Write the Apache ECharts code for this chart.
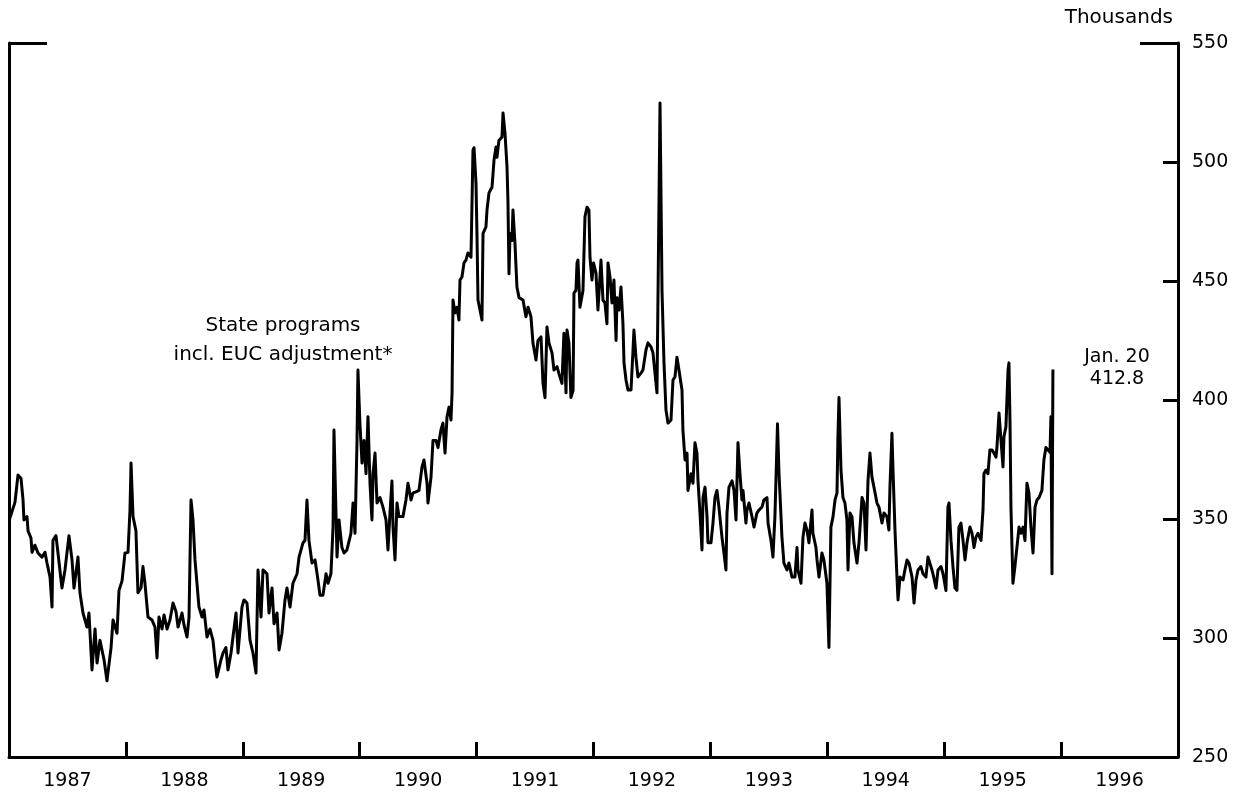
<!DOCTYPE html>
<html>
<head>
<meta charset="utf-8">
<title>Initial claims</title>
<script src="https://cdn.jsdelivr.net/npm/echarts@6/dist/echarts.min.js"></script>
<style>
  html, body { margin: 0; padding: 0; background: #fff; }
  #chart { width: 1243px; height: 796px; }
</style>
</head>
<body>
<div id="chart"></div>
<script>
// weekly claims, thousands: [decimal year, value]
const claims1987 = [
  [1987.005, 350], [1987.051, 357], [1987.077, 368.5], [1987.103, 367], [1987.120, 358], [1987.128, 349.6],
  [1987.154, 351], [1987.163, 345], [1987.188, 342], [1987.197, 336], [1987.222, 339], [1987.248, 335.7],
  [1987.282, 334], [1987.308, 336], [1987.325, 331.5], [1987.351, 325.6], [1987.368, 313], [1987.376, 341],
  [1987.402, 343], [1987.419, 335.7], [1987.453, 321], [1987.479, 328.6], [1987.513, 343], [1987.539, 332.8],
  [1987.556, 321], [1987.590, 334], [1987.607, 319], [1987.633, 310.5], [1987.667, 304.6], [1987.684, 310.5],
  [1987.710, 286.6], [1987.736, 303.8], [1987.753, 289.5], [1987.778, 299], [1987.813, 290.8], [1987.838, 282],
  [1987.873, 296], [1987.890, 307.6], [1987.924, 302], [1987.941, 320], [1987.967, 324], [1987.992, 335.7]
]
const claims1988 = [
  [1988.018, 336], [1988.035, 353.8], [1988.044, 373.5], [1988.061, 351], [1988.086, 345], [1988.103, 319],
  [1988.129, 321], [1988.146, 330], [1988.163, 323], [1988.189, 308.8], [1988.223, 307.6], [1988.249, 304.6],
  [1988.266, 291.6], [1988.283, 308.8], [1988.309, 303.8], [1988.326, 309.7], [1988.352, 303.8], [1988.377, 307.6],
  [1988.403, 314.7], [1988.429, 311], [1988.446, 304.6], [1988.480, 310.5], [1988.497, 305.5], [1988.523, 300.4],
  [1988.540, 308.8], [1988.557, 358], [1988.574, 349.6], [1988.591, 332.8], [1988.608, 323], [1988.625, 313],
  [1988.651, 308.8], [1988.668, 311.8], [1988.694, 300.4], [1988.719, 303.8], [1988.745, 299], [1988.762, 290.8],
  [1988.779, 283.6], [1988.813, 290.8], [1988.831, 293.7], [1988.856, 296], [1988.873, 286.6], [1988.899, 293.7],
  [1988.916, 300.4], [1988.942, 310.5], [1988.959, 293.7], [1988.993, 313]
]
const claims1989 = [
  [1989.010, 316], [1989.036, 314.7], [1989.062, 299], [1989.087, 293.7], [1989.113, 285.3], [1989.130, 328.6],
  [1989.156, 308.8], [1989.173, 328.6], [1989.190, 328.6], [1989.207, 327], [1989.224, 310.5], [1989.250, 321],
  [1989.267, 306], [1989.293, 310.5], [1989.310, 295], [1989.335, 302], [1989.361, 316], [1989.378, 321],
  [1989.404, 313], [1989.429, 323], [1989.464, 327], [1989.481, 334], [1989.515, 340], [1989.532, 341],
  [1989.549, 358], [1989.566, 341], [1989.592, 331.5], [1989.618, 332.8], [1989.643, 324.4], [1989.660, 318],
  [1989.686, 318], [1989.712, 327], [1989.729, 323], [1989.754, 327], [1989.772, 346.6], [1989.780, 387.4],
  [1989.797, 352.5], [1989.806, 334], [1989.823, 349.6], [1989.848, 338], [1989.866, 335.7], [1989.891, 337],
  [1989.925, 344], [1989.943, 356.7], [1989.960, 344], [1989.977, 383], [1989.985, 412.6]
]
const claims1990 = [
  [1990.002, 390], [1990.020, 373.5], [1990.037, 383], [1990.054, 369], [1990.071, 393], [1990.088, 365],
  [1990.105, 349.6], [1990.114, 369], [1990.131, 377.7], [1990.148, 356.7], [1990.174, 359], [1990.199, 355],
  [1990.225, 349.6], [1990.242, 337], [1990.259, 352.5], [1990.276, 366], [1990.285, 346.6], [1990.302, 332.8],
  [1990.319, 356.7], [1990.336, 351], [1990.370, 351], [1990.396, 358], [1990.413, 365], [1990.439, 358],
  [1990.456, 361], [1990.481, 361.4], [1990.507, 362], [1990.533, 371.9], [1990.550, 374.8], [1990.576, 365],
  [1990.584, 356.7], [1990.610, 367.6], [1990.627, 383], [1990.653, 383], [1990.670, 380], [1990.695, 387.4],
  [1990.712, 390.3], [1990.730, 377.7], [1990.747, 392.9], [1990.764, 397], [1990.781, 391.6], [1990.790, 403],
  [1990.798, 442], [1990.815, 436.6], [1990.832, 439], [1990.849, 433.6], [1990.858, 450.4], [1990.875, 451.7],
  [1990.892, 457.6], [1990.909, 458.8], [1990.926, 461.8], [1990.952, 460], [1990.969, 505], [1990.978, 506],
  [1990.995, 491]
]
const claims1991 = [
  [1991.003, 470], [1991.012, 442], [1991.029, 437.8], [1991.046, 433.6], [1991.055, 470], [1991.080, 472.7],
  [1991.089, 479.8], [1991.106, 487], [1991.132, 489.5], [1991.149, 500.8], [1991.166, 506.3], [1991.174, 502],
  [1991.191, 509], [1991.217, 510.5], [1991.226, 520.6], [1991.243, 512], [1991.260, 498], [1991.268, 484],
  [1991.277, 453], [1991.286, 470], [1991.303, 467], [1991.311, 479.8], [1991.328, 466], [1991.345, 447.5],
  [1991.363, 443], [1991.397, 442], [1991.422, 435], [1991.440, 439], [1991.465, 435], [1991.482, 424],
  [1991.508, 416.8], [1991.525, 425], [1991.551, 426.5], [1991.568, 407], [1991.585, 401], [1991.602, 430.7],
  [1991.619, 424], [1991.645, 419.8], [1991.662, 412.6], [1991.688, 414], [1991.705, 411], [1991.730, 407],
  [1991.747, 428], [1991.765, 403], [1991.773, 429.4], [1991.790, 424], [1991.807, 401], [1991.825, 404],
  [1991.833, 445], [1991.850, 446], [1991.859, 457.6], [1991.867, 458.8], [1991.884, 439], [1991.910, 446],
  [1991.927, 477], [1991.944, 481], [1991.961, 479.8], [1991.970, 460], [1991.987, 450.4]
]
const claims1992 = [
  [1992.000, 457.6], [1992.021, 453.4], [1992.038, 437.8], [1992.064, 458.8], [1992.081, 442], [1992.098, 440.8],
  [1992.115, 432], [1992.124, 457.6], [1992.141, 451.7], [1992.158, 440.8], [1992.175, 450.4], [1992.193, 425],
  [1992.201, 443], [1992.218, 437.8], [1992.235, 447.5], [1992.252, 432], [1992.261, 415.6], [1992.278, 408.4],
  [1992.295, 404.2], [1992.321, 404.2], [1992.338, 421], [1992.346, 429.4], [1992.363, 418], [1992.380, 409.7],
  [1992.406, 411.3], [1992.423, 412.6], [1992.449, 421], [1992.466, 424], [1992.492, 422.3], [1992.509, 419.8],
  [1992.526, 411.3], [1992.543, 403], [1992.569, 524.8], [1992.586, 446], [1992.603, 415.6], [1992.620, 395.8],
  [1992.637, 390.3], [1992.663, 391.6], [1992.680, 408.4], [1992.697, 409.7], [1992.714, 418], [1992.731, 412.6],
  [1992.757, 404.2], [1992.765, 387.4], [1992.783, 374.8], [1992.800, 377.7], [1992.808, 362], [1992.834, 369],
  [1992.851, 365], [1992.868, 382], [1992.885, 377.7], [1992.894, 366], [1992.911, 352.5], [1992.928, 337],
  [1992.937, 359], [1992.954, 363.4], [1992.971, 351], [1992.979, 340]
]
const claims1993 = [
  [1993.005, 340], [1993.022, 348.3], [1993.039, 359], [1993.056, 362], [1993.073, 355], [1993.099, 342.4],
  [1993.116, 335.7], [1993.133, 328.6], [1993.142, 352.5], [1993.159, 363.4], [1993.185, 366], [1993.202, 362],
  [1993.219, 349.6], [1993.236, 382], [1993.253, 369], [1993.270, 358], [1993.279, 362], [1993.304, 348.3],
  [1993.313, 353.8], [1993.330, 356.7], [1993.356, 351], [1993.373, 346.6], [1993.398, 352.5], [1993.416, 353.8],
  [1993.441, 355], [1993.458, 358], [1993.484, 359], [1993.493, 348.3], [1993.518, 341], [1993.535, 334],
  [1993.552, 351], [1993.574, 390], [1993.587, 369], [1993.604, 351], [1993.612, 342.4], [1993.629, 331.5],
  [1993.655, 328.6], [1993.672, 331.5], [1993.698, 325.6], [1993.723, 325.6], [1993.741, 338], [1993.749, 328.6],
  [1993.775, 323], [1993.792, 342.4], [1993.809, 348.3], [1993.826, 345.4], [1993.843, 340], [1993.869, 353.8],
  [1993.877, 344], [1993.903, 338], [1993.912, 332.8], [1993.929, 325.6], [1993.954, 335.7], [1993.971, 332.8],
  [1993.997, 323]
]
const claims1994 = [
  [1994.014, 296], [1994.031, 346.6], [1994.049, 351], [1994.066, 358], [1994.083, 361], [1994.091, 384.5],
  [1994.100, 401], [1994.117, 370.6], [1994.134, 359], [1994.151, 356.7], [1994.168, 349.6], [1994.177, 328.6],
  [1994.194, 352.5], [1994.211, 351], [1994.228, 340], [1994.254, 331.5], [1994.271, 340], [1994.297, 359],
  [1994.314, 356.7], [1994.331, 337], [1994.348, 366], [1994.365, 377.7], [1994.382, 367.6], [1994.399, 363.4],
  [1994.425, 356.7], [1994.442, 355], [1994.468, 348.3], [1994.485, 352.5], [1994.510, 351], [1994.527, 345.4],
  [1994.536, 363.4], [1994.553, 386], [1994.562, 370.6], [1994.579, 345.4], [1994.596, 325.6], [1994.605, 316],
  [1994.622, 325.6], [1994.648, 324.4], [1994.664, 328.6], [1994.682, 332.8], [1994.699, 331.5], [1994.725, 325.6],
  [1994.742, 314.7], [1994.759, 324.4], [1994.776, 328.6], [1994.801, 330], [1994.819, 327], [1994.844, 325.6],
  [1994.861, 334], [1994.887, 330], [1994.904, 327], [1994.930, 321], [1994.947, 328.6], [1994.973, 330],
  [1994.990, 327]
]
const claims1995 = [
  [1995.015, 320], [1995.032, 355], [1995.041, 356.7], [1995.058, 341], [1995.075, 330], [1995.092, 321],
  [1995.109, 320], [1995.126, 346.6], [1995.143, 348.3], [1995.161, 341], [1995.178, 332.8], [1995.195, 340],
  [1995.220, 346.6], [1995.238, 344], [1995.255, 338], [1995.272, 342.4], [1995.289, 344], [1995.315, 341],
  [1995.332, 353.8], [1995.340, 369], [1995.357, 370.6], [1995.374, 369], [1995.391, 379], [1995.409, 379],
  [1995.426, 377.7], [1995.443, 376], [1995.451, 380], [1995.469, 394.5], [1995.486, 383], [1995.503, 371.9],
  [1995.511, 384.5], [1995.528, 388.7], [1995.546, 412.6], [1995.554, 415.6], [1995.563, 390.3], [1995.571, 355],
  [1995.580, 338], [1995.588, 323], [1995.605, 330], [1995.622, 338], [1995.640, 346.6], [1995.657, 344],
  [1995.674, 346.6], [1995.691, 341], [1995.708, 365], [1995.725, 361], [1995.742, 346.6], [1995.760, 335.7],
  [1995.777, 355], [1995.794, 358], [1995.811, 359], [1995.836, 362], [1995.853, 374.8], [1995.870, 380],
  [1995.888, 379], [1995.905, 378], [1995.913, 393], [1995.922, 327], [1995.930, 412.8]
]

const yearTicks = [1988, 1989, 1990, 1991, 1992, 1993, 1994, 1995, 1996]
const yearLabels = [1987, 1988, 1989, 1990, 1991, 1992, 1993, 1994, 1995, 1996]

const allClaims = [].concat(claims1987, claims1988, claims1989, claims1990, claims1991,
  claims1992, claims1993, claims1994, claims1995)

const FONT = 'DejaVu Sans'
const chart = echarts.init(document.getElementById('chart'))

const option = {
  animation: false,
  backgroundColor: '#ffffff',
  grid: { left: 9, right: 65, top: 43, bottom: 39, containLabel: false },
  xAxis: {
    type: 'value',
    min: 1987,
    max: 1997,
    axisLine: { show: true, lineStyle: { color: '#000', width: 3 } },
    axisTick: {
      show: true,
      inside: true,
      length: 15,
      lineStyle: { color: '#000', width: 3 },
      customValues: yearTicks
    },
    axisLabel: {
      show: true,
      customValues: yearLabels.map(y => y + 0.5),
      formatter: v => String(Math.floor(v)),
      margin: 15,
      color: '#000',
      fontFamily: FONT,
      fontSize: 19
    },
    splitLine: { show: false }
  },
  yAxis: [
    {
      type: 'value',
      position: 'right',
      min: 250,
      max: 550,
      interval: 50,
      name: 'Thousands',
      nameLocation: 'end',
      nameGap: 15,
      nameTextStyle: { color: '#000', fontFamily: FONT, fontSize: 20, align: 'right', padding: [0, 5, 0, 0] },
      axisLine: { show: true, lineStyle: { color: '#000', width: 3 } },
      axisTick: { show: true, inside: true, length: 15, lineStyle: { color: '#000', width: 3 } },
      axisLabel: { margin: 14, color: '#000', fontFamily: FONT, fontSize: 19 },
      splitLine: { show: false }
    },
    {
      // longer top tick on the right
      type: 'value',
      position: 'right',
      min: 250,
      max: 550,
      axisLine: { show: false },
      axisTick: { show: true, inside: true, length: 38, customValues: [550], lineStyle: { color: '#000', width: 3 } },
      axisLabel: { show: false },
      splitLine: { show: false }
    },
    {
      // left frame line with its top tick
      type: 'value',
      position: 'left',
      min: 250,
      max: 550,
      axisLine: { show: true, lineStyle: { color: '#000', width: 3 } },
      axisTick: { show: true, inside: true, length: 38, customValues: [550], lineStyle: { color: '#000', width: 3 } },
      axisLabel: { show: false },
      splitLine: { show: false }
    }
  ],
  series: [{
    type: 'line',
    data: allClaims,
    yAxisIndex: 0,
    showSymbol: false,
    symbol: 'none',
    lineStyle: { color: '#000', width: 3, join: 'round' }
  }],
  graphic: [
    {
      type: 'text',
      x: 283,
      y: 340,
      style: {
        text: 'State programs\nincl. EUC adjustment*',
        fill: '#000',
        font: '20px "DejaVu Sans"',
        align: 'center',
        verticalAlign: 'middle',
        lineHeight: 29
      }
    },
    {
      type: 'text',
      x: 1117,
      y: 368,
      style: {
        text: 'Jan. 20\n412.8',
        fill: '#000',
        font: '19px "DejaVu Sans"',
        align: 'center',
        verticalAlign: 'middle',
        lineHeight: 22
      }
    }
  ]
}

chart.setOption(option)
</script>
</body>
</html>
